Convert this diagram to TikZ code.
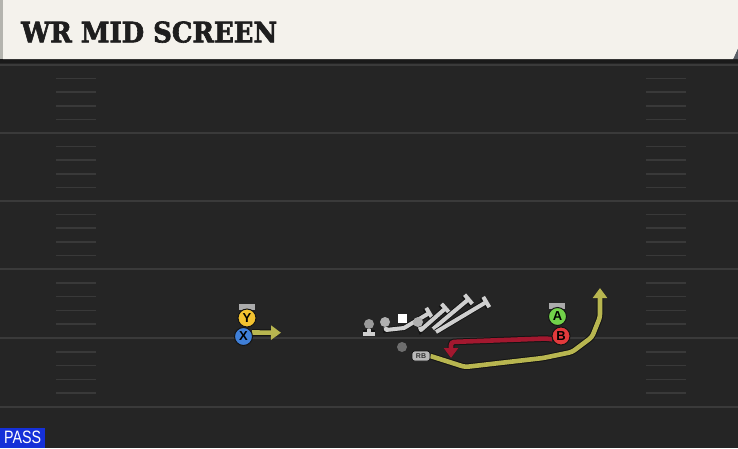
\documentclass[tikz,border=0pt]{standalone}
\usepackage{fontspec}
\setmainfont{Liberation Sans}
\newfontfamily\titlefont{DejaVu Serif Bold}[FakeBold=2.2]
\usetikzlibrary{arrows.meta}
\definecolor{fieldbg}{HTML}{252525}
\definecolor{fieldln}{HTML}{3A3A3A}
\definecolor{hashc}{HTML}{393939}
\definecolor{cream}{HTML}{F4F2EC}
\definecolor{stripg}{HTML}{B4B4AE}
\definecolor{shadowc}{HTML}{1A1A1A}
\definecolor{cornerc}{HTML}{5A5E66}
\definecolor{titlec}{HTML}{1E1E1E}
\definecolor{yroute}{HTML}{B8B650}
\definecolor{rroute}{HTML}{A3182F}
\definecolor{blockc}{HTML}{CFCFCF}
\definecolor{outl}{HTML}{141414}
\definecolor{ycol}{HTML}{F2C230}
\definecolor{xcol}{HTML}{3F7FD8}
\definecolor{acol}{HTML}{72D14A}
\definecolor{bcol}{HTML}{E23A3C}
\definecolor{tabc}{HTML}{ABABAB}
\definecolor{olgrey}{HTML}{9A9A9A}
\definecolor{olgreyb}{HTML}{B0B0B0}
\definecolor{qbgrey}{HTML}{6E6E6E}
\definecolor{rbc}{HTML}{B8B8B8}
\definecolor{passc}{HTML}{1530D8}
\pgfdeclarelayer{back}
\pgfdeclarelayer{mid}
\pgfsetlayers{back,mid,main}
\begin{document}
\begin{tikzpicture}[x=1pt,y=-1pt,
  fieldline/.style={draw=fieldln,line width=2pt},
  hashmark/.style={draw=hashc,line width=1.6pt},
  player/.style={circle,draw=outl,line width=1pt,minimum size=18pt,inner sep=0pt,
    font=\bfseries\fontsize{13}{13}\selectfont,text=black},
  playertab/.style={fill=tabc,draw=none,minimum width=16pt,minimum height=6pt,inner sep=0pt},
  lineman/.style={circle,fill=#1,minimum size=10pt,inner sep=0pt},
  route/.style={line width=4.6pt,line join=round,rounded corners=3pt,
    preaction={draw=outl,line width=6.6pt}},
  blockroute/.style={draw=blockc,line width=4pt,line join=round,
    preaction={draw=outl,line width=5.8pt},-{Bar[width=12pt]}},
  rbtab/.style={fill=rbc,draw=outl,line width=.8pt,rounded corners=2.5pt,minimum width=18pt,
    minimum height=10pt,inner sep=0pt,text=black!80,font=\bfseries\fontsize{7}{7}\selectfont}
]
\useasboundingbox (0,0) rectangle (738,448);
\begin{pgfonlayer}{back}
  \fill[fieldbg] (0,59) rectangle (738,448);
  \foreach \yy in {65,133,201,269,338,407}
    \draw[fieldline] (0,\yy) -- (738,\yy);
  \foreach \yy in {78.6,92.2,105.8,119.4,146.6,160.2,173.8,187.4,214.6,228.2,241.8,255.4,
                   282.8,296.6,310.4,324.2,351.8,365.6,379.4,393.2}{
    \draw[hashmark] (56,\yy) -- (96,\yy);
    \draw[hashmark] (646,\yy) -- (686,\yy);
  }
  \fill[shadowc] (0,59) rectangle (738,63);
  \fill[cornerc] (738,48) -- (738,59) -- (733,59) -- cycle;
  \fill[cream] (3,0) -- (738,0) -- (738,48) -- (733,59) -- (3,59) -- cycle;
  \fill[stripg] (0,0) rectangle (3,59);
\end{pgfonlayer}

\node[anchor=south west,inner sep=0pt,text=titlec] (title) at (21,43)
  {\resizebox{256pt}{21pt}{\titlefont WR MID SCREEN}};

% receivers
\node[playertab] (ytab) at (247,307) {};
\node[player,fill=ycol] (Y) at (247,318) {Y};
\node[player,fill=xcol] (X) at (243.5,336.5) {X};
\node[playertab] (atab) at (557,306) {};
\node[player,fill=acol] (A) at (557.5,316.5) {A};
\node[player,fill=bcol] (B) at (561,336) {B};

% line and backfield
\node[lineman=olgrey] (T) at (369,324) {};
\node[lineman=olgreyb] (G1) at (385,322) {};
\node[fill=white,minimum size=9pt,inner sep=0pt] (C) at (402,318) {};
\node[lineman=olgreyb] (G2) at (418,322) {};
\node[lineman=qbgrey] (QB) at (402,347) {};
\node[rbtab] (RB) at (421,356) {RB};

% waypoints
\coordinate (xend) at (281,332.7);
\coordinate (Tb) at (369,336);
\coordinate (a1) at (386,330);
\coordinate (a2) at (404,328);
\coordinate (a3) at (431,312);
\coordinate (g2a) at (421,330);
\coordinate (g2b) at (447,307);
\coordinate (h0) at (433,329);
\coordinate (h1) at (470,298);
\coordinate (k0) at (436,332);
\coordinate (k1) at (488,301);
\coordinate (r1) at (465,367);
\coordinate (r2) at (543,358);
\coordinate (r3) at (572,352);
\coordinate (r4) at (592,337);
\coordinate (r5) at (600,317);
\coordinate (rend) at (600,288);
\coordinate (b1) at (546,338.5);
\coordinate (b2) at (451,342);
\coordinate (bend) at (451,358);

\begin{pgfonlayer}{mid}
  \draw[route,draw=yroute,-{Triangle[length=10pt,width=14pt]}] (X.25) -- (xend);
  \draw[route,draw=yroute,-{Triangle[length=10pt,width=14pt]}]
    (RB.east) -- (r1) -- (r2) -- (r3) -- (r4) -- (r5) -- (rend);
  \draw[route,draw=rroute,-{Triangle[length=10pt,width=14pt]}]
    (B.200) -- (b1) -- (b2) -- (bend);
  \draw[blockroute] (T) -- (Tb);
  \draw[blockroute] (G1) -- (a1) -- (a2) -- (a3);
  \draw[blockroute] (G2) -- (g2a) -- (g2b);
  \draw[blockroute] (h0) -- (h1);
  \draw[blockroute] (k0) -- (k1);
\end{pgfonlayer}

\node[fill=passc,anchor=south west,minimum width=45pt,minimum height=20pt,inner sep=0pt,
  text=white] (pass) at (0,448) {\resizebox{37pt}{12.5pt}{PASS}};
\end{tikzpicture}
\end{document}
